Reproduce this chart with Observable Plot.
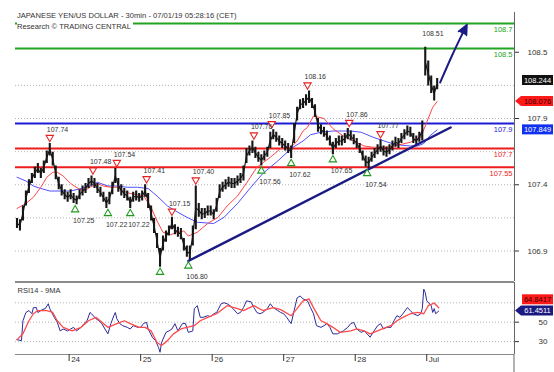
<!DOCTYPE html>
<html>
<head>
<meta charset="utf-8">
<script src="https://cdn.jsdelivr.net/npm/d3@7"></script>
<script src="https://cdn.jsdelivr.net/npm/@observablehq/plot@0.6"></script>
<style>
  html, body { margin: 0; padding: 0; background: #fff; }
  #chart { position: relative; width: 554px; height: 372px; overflow: hidden; background: #fff; }
  #chart svg { display: block; }
  #title { position: absolute; z-index: 2; left: 17px; top: 11px; font: 7.6px "Liberation Sans", Arial, sans-serif; color: #333; line-height: 10.5px; white-space: nowrap; }
  #title .sub { background: #fff; padding-right: 2px; }
</style>
</head>
<body>
<div id="chart">
  <div id="title"><div>JAPANESE YEN/US DOLLAR - 30min - 07/01/19 05:28:16 (CET)</div><div><span class="sub">Research © TRADING CENTRAL</span></div></div>
</div>
<script>
// ---------- DATA ----------
// hourly samples of the 30-min candles (bar index = 2*i + 1)
const priceLo = [107.06,107.04,107.12,107.24,107.34,107.42,107.46,107.50,107.46,107.50,
  107.58,107.64,107.56,107.45,107.37,107.32,107.29,107.27,107.29,107.26,
  107.25,107.29,107.32,107.34,107.38,107.40,107.38,107.34,107.31,107.27,
  107.22,107.25,107.33,107.42,107.35,107.32,107.30,107.28,107.22,107.27,
  107.28,107.27,107.28,107.31,107.22,107.12,107.02,106.90,106.75,106.88,
  106.95,107.00,107.05,107.01,106.99,106.97,106.88,106.83,106.80,106.92,
  107.05,107.15,107.13,107.14,107.16,107.16,107.13,107.19,107.30,107.35,
  107.37,107.39,107.38,107.38,107.40,107.42,107.44,107.58,107.64,107.66,
  107.62,107.59,107.56,107.60,107.63,107.70,107.77,107.75,107.72,107.70,
  107.68,107.66,107.62,107.74,107.92,108.01,108.02,108.04,108.06,108.02,
  107.95,107.83,107.81,107.79,107.76,107.72,107.65,107.70,107.72,107.72,
  107.74,107.77,107.76,107.73,107.70,107.66,107.60,107.55,107.54,107.59,
  107.62,107.65,107.67,107.64,107.63,107.65,107.68,107.71,107.70,107.74,
  107.77,107.80,107.79,107.74,107.72,107.75,107.76,108.28,108.20,108.14,
  108.08,108.17];
const priceHi = [107.14,107.13,107.24,107.36,107.45,107.50,107.55,107.58,107.54,107.60,
  107.68,107.74,107.67,107.56,107.47,107.41,107.37,107.35,107.37,107.34,
  107.32,107.37,107.40,107.42,107.46,107.48,107.46,107.42,107.39,107.35,
  107.31,107.35,107.43,107.54,107.46,107.41,107.38,107.36,107.31,107.35,
  107.36,107.34,107.36,107.41,107.34,107.24,107.14,107.02,106.90,107.00,
  107.04,107.08,107.15,107.09,107.07,107.06,106.98,106.92,106.92,107.08,
  107.40,107.26,107.22,107.22,107.24,107.24,107.21,107.30,107.41,107.43,
  107.45,107.47,107.46,107.46,107.48,107.50,107.56,107.70,107.72,107.76,
  107.71,107.67,107.65,107.68,107.71,107.83,107.85,107.83,107.80,107.78,
  107.76,107.74,107.72,107.90,108.03,108.09,108.10,108.13,108.16,108.10,
  108.05,107.94,107.89,107.87,107.84,107.80,107.75,107.78,107.80,107.80,
  107.82,107.86,107.84,107.81,107.78,107.74,107.68,107.64,107.63,107.67,
  107.70,107.73,107.77,107.72,107.71,107.73,107.76,107.79,107.78,107.82,
  107.85,107.88,107.87,107.82,107.80,107.83,107.92,108.51,108.40,108.28,
  108.20,108.26];

const redMABar = [1,7,12,17,21,25,28,32,37,42,46,50,55,59,64,68,72,77,82,86,91,95,99,104,109,113,116,122,129,136,142,149,156,162,171,178,185,189,193,196,200,207,213,220,227,234,240,247,254,265,272,276,280,283];
const redMAVal = [107.22,107.26,107.31,107.39,107.47,107.51,107.51,107.48,107.42,107.38,107.36,107.39,107.42,107.40,107.39,107.39,107.36,107.34,107.33,107.32,107.23,107.12,107.03,107.01,107.03,107.04,107.00,107.03,107.10,107.15,107.24,107.32,107.44,107.55,107.63,107.70,107.71,107.76,107.84,107.87,107.96,107.94,107.86,107.80,107.76,107.72,107.71,107.71,107.72,107.75,107.79,107.91,108.03,108.076];
const blueMABar = [1,7,12,17,23,30,37,44,50,55,62,68,75,82,89,95,102,109,115,122,133,140,149,158,166,176,185,193,198,205,213,225,232,240,250,256,265,270,274,278,283];
const blueMAVal = [107.47,107.44,107.40,107.38,107.36,107.36,107.36,107.38,107.40,107.43,107.40,107.40,107.39,107.39,107.38,107.32,107.24,107.19,107.15,107.11,107.10,107.15,107.26,107.39,107.50,107.60,107.70,107.76,107.81,107.83,107.84,107.84,107.83,107.79,107.75,107.73,107.72,107.72,107.74,107.80,107.849];

const highBars = [23,52,68,88,105,121,160,172,196,224,245];
const highVals = [107.74,107.48,107.54,107.41,107.15,107.40,107.76,107.85,108.16,107.86,107.77];
const highLabels = ["107.74","107.48","107.54","107.41","107.15","107.40","107.76","107.85","108.16","107.86","107.77"];
const lowBars = [40,62,77,97,116,165,185,213,236];
const lowVals = [107.25,107.22,107.22,106.75,106.80,107.56,107.62,107.65,107.54];
const lowLabels = ["107.25","107.22","107.22","","106.80","107.56","107.62","107.65","107.54"];
const peakBar = 275, peakVal = 108.51, peakLabel = "108.51";

const levelVals = [108.7, 108.5, 107.9, 107.7, 107.55];
const levelLabels = ["108.7", "108.5", "107.9", "107.7", "107.55"];
const levelKinds = ["resistance", "resistance", "pivot", "support", "support"];

const trendBars = [116, 292];
const trendVals = [106.80, 107.868];
const arrowBars = [285, 293, 300];
const arrowVals = [108.228, 108.444, 108.62];

const priceTicks = [108.47, 107.94, 107.41, 106.88];
const priceTickLabels = ["108.5", "107.9", "107.4", "106.9"];
const lastPrice = 108.244, lastRedMA = 108.076, lastBlueMA = 107.849;

const rsiBar = [1,4,5,7,9,11,12,14,15,18,20,22,23,26,28,30,32,35,37,39,41,44,46,48,50,51,54,56,58,60,62,64,66,67,68,70,72,75,77,79,82,84,86,88,89,92,94,96,97,98,101,103,105,107,109,112,114,116,119,120,122,124,126,129,131,133,135,138,140,142,144,146,149,151,153,155,158,160,162,164,166,169,171,173,176,178,180,182,185,187,189,191,193,196,198,200,202,205,207,209,211,213,216,218,220,223,225,227,229,232,234,236,238,240,243,245,247,249,252,254,256,258,260,263,265,267,270,272,273,274,275,276,279,280,281,282,284];
const rsiVal = [32,31,51.5,60,62,58.7,65,65,60,63,64,69,64,55,50,41,43,41,43,44.7,41,44.7,48.5,51.5,60,58.7,53.6,51.5,48.5,43,38,48.5,56.7,60,53.6,48.5,46.4,44.7,43,46.4,44.7,44.7,48.8,49.8,43,34,31,24,19,29,39.5,41,43,48.5,41,48.5,48.8,39.5,41,64,67,55,55,56.7,55.6,58.7,60,69,70,69,67,64,58.7,60,65,72,71,65,60,58.7,60,64,69,65,62,60,58.7,55,48.5,62,75,77,74,72,65,58.7,46.4,44.7,46.4,48.5,44.7,38,38,39.5,41,44.7,48.5,49.8,43,39.5,41,38,34.5,39.5,46.4,48.5,43,44.7,44.7,51.5,56.7,55,58.7,65,62,58.7,56.7,58.7,64,84,80.5,72,67,60,64,58.7,61.45];
const rsiMABar = [1,5,9,12,15,21,25,28,32,38,44,49,54,58,62,68,73,77,83,87,91,95,98,102,106,111,115,120,124,129,135,142,149,153,160,166,173,178,185,189,193,197,200,205,209,213,218,225,229,234,238,243,247,252,256,260,265,270,274,277,281,284];
const rsiMAVal = [32,38,51.5,58.7,62,62,60,51.5,44.7,41,44.7,51.5,55,50,44.7,48.5,51.5,48.5,44.7,44.7,41,29,26,31,38,43,44.7,46.4,51.5,55,58.7,67,64,62,67,62,65,63,56.7,64,72,74,65,51.5,48.5,44.7,39.5,41,43,41,38,41,43.6,46.4,51.5,55,58.7,60,58.7,67,69.7,64.84];
const rsiTicks = [50, 30];
const rsiGrid = [70, 50, 30];
const lastRSI = 61.4511, lastRSIMA = 64.8417;

const dayTicks = [36, 84, 132, 180, 228, 276];
const dayLabels = ["24", "25", "26", "27", "28", "Jul"];

// ---------- TABLES ----------
const weekStart = 274; // first bar of the new trading week (after the weekend gap)
const candles = priceLo.map((lo, i) => ({bar: 2 * i + 1, lo, hi: priceHi[i], mid: (lo + priceHi[i]) / 2,
  week: 2 * i + 1 >= weekStart ? "w2" : "w1"}));
const redMA = redMABar.map((b, i) => ({bar: b, v: redMAVal[i]}));
const blueMA = blueMABar.map((b, i) => ({bar: b, v: blueMAVal[i]}));
const highs = highBars.map((b, i) => ({bar: b, v: highVals[i], label: highLabels[i]}));
const lows = lowBars.map((b, i) => ({bar: b, v: lowVals[i], label: lowLabels[i]}));
const levels = levelVals.map((v, i) => ({v, label: levelLabels[i], kind: levelKinds[i]}));
const trend = trendBars.map((b, i) => ({bar: b, v: trendVals[i]}));
const arrowPts = arrowBars.map((b, i) => ({bar: b, v: arrowVals[i]}));
const rsi = rsiBar.map((b, i) => ({bar: b, v: rsiVal[i]}));
const rsiMA = rsiMABar.map((b, i) => ({bar: b, v: rsiMAVal[i]}));

// ---------- LAYOUT / STYLE ----------
const FONT = '"Liberation Sans", Arial, sans-serif';
const xMax = 334.9;
const priceDomain = [106.636, 108.788];
const rsiDomain = [16.7, 90.9];
const NAVY = "#1b1b86";

const price = Plot.plot({
  width: 554, height: 281,
  marginLeft: 15, marginRight: 40, marginTop: 12, marginBottom: 0,
  x: {domain: [0, xMax], axis: null},
  y: {domain: priceDomain, label: null},
  color: {domain: ["resistance", "pivot", "support"], range: ["#22a322", "#1c1cd4", "#ee1c1c"]},
  style: {fontFamily: FONT, fontSize: "8px", color: "#333", background: "transparent", overflow: "visible"},
  marks: [
    Plot.ruleY([108.205, 107.94, 107.675, 107.41, 107.145, 106.88], {stroke: "#b5b5b5", strokeDasharray: "1,2"}),
    Plot.ruleY(levels, {y: "v", stroke: "kind", strokeWidth: 2}),
    Plot.text(levels, {y: "v", text: "label", fill: "kind", frameAnchor: "right", textAnchor: "end", dx: -2, dy: 6, fontSize: 7.5}),
    Plot.line(blueMA, {x: "bar", y: "v", stroke: "#5050ff", strokeWidth: 1}),
    Plot.line(redMA, {x: "bar", y: "v", stroke: "#ff4646", strokeWidth: 1}),
    Plot.line(candles, {x: "bar", y: "mid", z: "week", stroke: "#161616", strokeWidth: 1.2}),
    Plot.ruleX(candles, {x: "bar", y1: "lo", y2: "hi", stroke: "#161616", strokeWidth: 2.1}),
    Plot.line(trend, {x: "bar", y: "v", stroke: NAVY, strokeWidth: 2.5}),
    Plot.line(arrowPts, {x: "bar", y: "v", stroke: NAVY, strokeWidth: 2, curve: "natural"}),
    Plot.vector([arrowPts[arrowPts.length - 1]], {x: "bar", y: "v", rotate: 27, length: 10, r: 4.5, shape: "spike", anchor: "start", fill: NAVY, stroke: NAVY}),
    Plot.dot(highs, {x: "bar", y: "v", symbol: "triangle", rotate: 180, r: 2.7, stroke: "#e42020", fill: "white", strokeWidth: 1.1, dy: -6}),
    Plot.dot(lows, {x: "bar", y: "v", symbol: "triangle", r: 2.7, stroke: "#1f9a1f", fill: "white", strokeWidth: 1.1, dy: 5}),
    Plot.text(highs, {x: "bar", y: "v", text: "label", dy: -14, dx: -3, textAnchor: "start", fontSize: 7, fill: "#333"}),
    Plot.text(lows, {x: "bar", y: "v", text: "label", dy: 16, dx: -2, textAnchor: "start", fontSize: 7, fill: "#333"}),
    Plot.text([{bar: peakBar, v: peakVal, label: peakLabel}], {x: "bar", y: "v", text: "label", dy: -14, dx: -3, textAnchor: "start", fontSize: 7, fill: "#333"}),
    Plot.ruleY([priceDomain[0]], {stroke: "#8a8a8a"}),
    Plot.ruleX([xMax], {stroke: "#666"}),
    Plot.axisY(priceTicks, {anchor: "right", tickSize: 4, tickPadding: 29, textAnchor: "end", label: null, fontSize: 8,
      tickFormat: d => priceTickLabels[priceTicks.indexOf(d)]})
  ]
});

const rsiPlot = Plot.plot({
  width: 554, height: 91,
  marginLeft: 15, marginRight: 40, marginTop: 1, marginBottom: 18,
  x: {domain: [0, xMax], label: null},
  y: {domain: rsiDomain, label: null},
  style: {fontFamily: FONT, fontSize: "8px", color: "#333", background: "transparent", overflow: "visible"},
  marks: [
    Plot.ruleY(rsiGrid, {stroke: "#b5b5b5", strokeDasharray: "1,2"}),
    Plot.line(rsi, {x: "bar", y: "v", stroke: "#2b2b9c", strokeWidth: 1}),
    Plot.line(rsiMA, {x: "bar", y: "v", stroke: "#ff4a4a", strokeWidth: 1.3}),
    Plot.ruleY([rsiDomain[1]], {stroke: "#8a8a8a"}),
    Plot.ruleY([rsiDomain[0]], {stroke: "#8a8a8a"}),
    Plot.ruleX([xMax], {stroke: "#666"}),
    Plot.text(["RSI14 - 9MA"], {frameAnchor: "top-left", dx: 2, dy: 5, textAnchor: "start", fontSize: 7.5, fill: "#333"}),
    Plot.axisY(rsiTicks, {anchor: "right", tickSize: 4, tickPadding: 29, textAnchor: "end", label: null, fontSize: 8}),
    Plot.axisX(dayTicks, {anchor: "bottom", tickSize: 7, tickFormat: () => "", label: null}),
    Plot.axisX(dayTicks, {anchor: "bottom", tickSize: 0, tickPadding: 2, dx: 2, textAnchor: "start", label: null, fontSize: 8,
      tickFormat: d => dayLabels[dayTicks.indexOf(d)]})
  ]
});

const chart = document.getElementById("chart");
chart.insertBefore(rsiPlot, chart.firstChild);
chart.insertBefore(price, chart.firstChild);

function addBadge(svg, y, text, bg, fg, pointer) {
  const g = d3.select(svg).append("g").attr("font-family", FONT).attr("font-size", 7.5);
  const x0 = 521, x1 = 553, h = 10;
  if (pointer) {
    g.append("path").attr("d", `M515,${y} L${x0},${y - h / 2} L${x1},${y - h / 2} L${x1},${y + h / 2} L${x0},${y + h / 2} Z`).attr("fill", bg);
  } else {
    g.append("rect").attr("x", x0 + 1).attr("y", y - h / 2).attr("width", x1 - x0 - 1).attr("height", h).attr("fill", bg);
  }
  g.append("text").attr("x", 537.5).attr("y", y).attr("dy", "0.35em").attr("text-anchor", "middle").attr("fill", fg).text(text);
}
const py = price.scale("y");
addBadge(price, py.apply(lastPrice), String(lastPrice), "#111", "#fff", false);
addBadge(price, py.apply(lastRedMA), String(lastRedMA), "#ff1a1a", "#3a0000", true);
addBadge(price, py.apply(lastBlueMA), String(lastBlueMA), "#1030f0", "#fff", false);
const ry = rsiPlot.scale("y");
addBadge(rsiPlot, ry.apply(lastRSIMA) - 8, String(lastRSIMA), "#ff1a1a", "#3a0000", false);
addBadge(rsiPlot, ry.apply(lastRSI), String(lastRSI), "#1a1a80", "#fff", true);
// extend right axis line down to the bottom edge
const rx = rsiPlot.scale("x").apply(xMax);
d3.select(rsiPlot).append("line").attr("x1", rx).attr("x2", rx).attr("y1", 73).attr("y2", 91).attr("stroke", "#666");
</script>
</body>
</html>
